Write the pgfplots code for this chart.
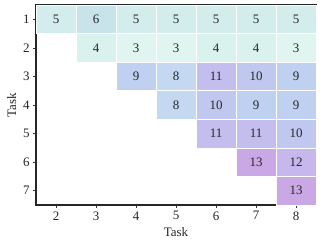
\documentclass[border=0pt]{standalone}
\usepackage{pgfplots}
\pgfplotsset{compat=1.18}
\usepackage{fontspec}
\setmainfont{Liberation Serif}
\begin{document}
\begin{tikzpicture}
\begin{axis}[
  x=40bp, y=28.57bp,
  xmin=1.5, xmax=8.5, ymin=0.5, ymax=7.5,
  y dir=reverse,
  xtick={2,...,8}, ytick={1,...,7},
  xtick pos=bottom, ytick pos=left,
  tick align=outside,
  major tick length=3bp,
  tick style={black!80, line width=0.6pt},
  axis line style={line width=1.3pt, black!85},
  xlabel={Task}, ylabel={Task},
  xlabel style={yshift=0bp},
  ylabel style={yshift=0bp},
  tick label style={font=\fontsize{13}{15}\selectfont, text=black!85},
  xticklabel style={yshift=0bp},
  label style={font=\fontsize{13}{15}\selectfont, text=black!85},
  /pgf/number format/assume math mode=true,
  colormap={taskmap}{rgb255=(224,245,240) rgb255=(218,242,238) rgb255=(211,236,236) rgb255=(200,228,234) rgb255=(198,222,240) rgb255=(196,216,242) rgb255=(192,208,240) rgb255=(192,200,240) rgb255=(196,190,238) rgb255=(198,184,236) rgb255=(202,168,230)},
  point meta min=3, point meta max=13,
]
\addplot[
  scatter, only marks,
  mark=square*, mark size=20bp,
  scatter/use mapped color={draw=white, fill=mapped color},
  mark options={yscale=0.71425, line width=0.7pt},
  point meta=explicit,
  nodes near coords*,
  every node near coord/.style={anchor=center, text=black!85, font=\fontsize{13}{15}\selectfont},
] table[meta=v] {
x y v
2 1 5
3 1 6
4 1 5
5 1 5
6 1 5
7 1 5
8 1 5
3 2 4
4 2 3
5 2 3
6 2 4
7 2 4
8 2 3
4 3 9
5 3 8
6 3 11
7 3 10
8 3 9
5 4 8
6 4 10
7 4 9
8 4 9
6 5 11
7 5 11
8 5 10
7 6 13
8 6 12
8 7 13
};
\end{axis}
\pgfresetboundingbox
\path ([xshift=-36bp,yshift=-41bp]current axis.south west) rectangle ([xshift=7bp,yshift=5bp]current axis.north east);
\end{tikzpicture}
\end{document}
